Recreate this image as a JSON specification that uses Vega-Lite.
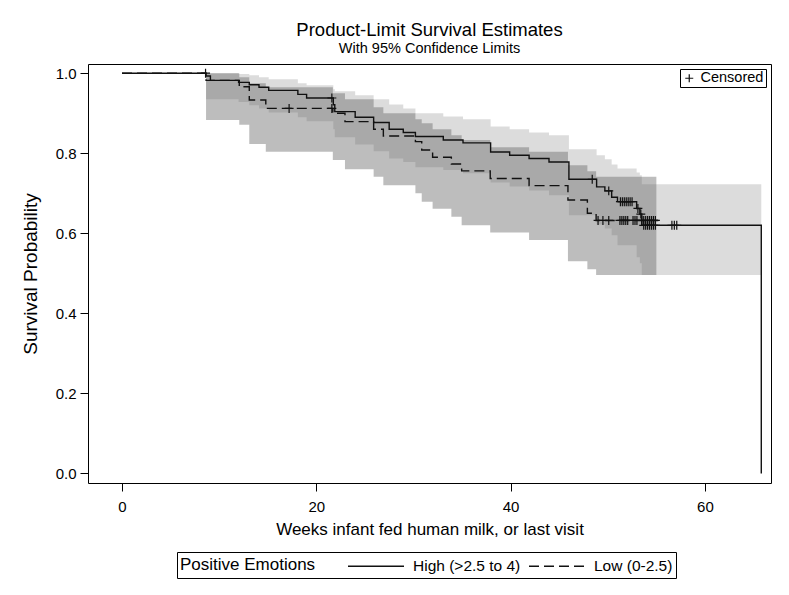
{
  "$schema": "https://vega.github.io/schema/vega-lite/v6.json",
  "autosize": {"type": "none"},
  "width": 683,
  "height": 419,
  "padding": {"left": 88, "top": 64, "right": 18, "bottom": 112},
  "background": "white",
  "title": {
    "text": "Product-Limit Survival Estimates",
    "subtitle": "With 95% Confidence Limits",
    "frame": "group",
    "anchor": "middle",
    "font": "Liberation Sans",
    "fontSize": 18.5,
    "fontWeight": "normal",
    "color": "#000",
    "subtitleFont": "Liberation Sans",
    "subtitleFontSize": 14.5,
    "subtitleColor": "#000",
    "subtitlePadding": 2,
    "offset": 9
  },
  "config": {
    "font": "Liberation Sans",
    "view": {"stroke": "#000", "strokeWidth": 1},
    "axis": {
      "grid": false,
      "domain": false,
      "tickColor": "#000",
      "tickSize": 8,
      "labelColor": "#000",
      "labelFont": "Liberation Sans",
      "labelFontSize": 15,
      "titleFont": "Liberation Sans",
      "titleFontSize": 17,
      "titleFontWeight": "normal",
      "titleColor": "#000"
    },
    "legend": {
      "labelFont": "Liberation Sans",
      "labelFontSize": 15.5,
      "labelColor": "#000",
      "titleFont": "Liberation Sans",
      "titleFontSize": 17,
      "titleFontWeight": "normal",
      "titleColor": "#000"
    }
  },
  "datasets": {
    "bandHigh": [
      {"t": 8.65, "lo": 0.935, "hi": 1.0},
      {"t": 12.0, "lo": 0.928, "hi": 0.998},
      {"t": 13.1, "lo": 0.92, "hi": 0.995},
      {"t": 14.1, "lo": 0.912, "hi": 0.99},
      {"t": 15.1, "lo": 0.902, "hi": 0.985},
      {"t": 18.1, "lo": 0.89, "hi": 0.975},
      {"t": 19.0, "lo": 0.88, "hi": 0.97},
      {"t": 21.75, "lo": 0.86, "hi": 0.96},
      {"t": 21.9, "lo": 0.84, "hi": 0.955},
      {"t": 24.0, "lo": 0.822, "hi": 0.945},
      {"t": 25.9, "lo": 0.805, "hi": 0.935},
      {"t": 27.5, "lo": 0.787, "hi": 0.922},
      {"t": 28.95, "lo": 0.778, "hi": 0.912},
      {"t": 30.2, "lo": 0.765, "hi": 0.9},
      {"t": 33.07, "lo": 0.758, "hi": 0.892},
      {"t": 35.1, "lo": 0.75, "hi": 0.885},
      {"t": 37.94, "lo": 0.727, "hi": 0.867},
      {"t": 39.9, "lo": 0.717, "hi": 0.86},
      {"t": 41.9, "lo": 0.707, "hi": 0.852},
      {"t": 43.95, "lo": 0.695, "hi": 0.845},
      {"t": 46.0, "lo": 0.645, "hi": 0.81},
      {"t": 48.85, "lo": 0.622, "hi": 0.795},
      {"t": 49.7, "lo": 0.612, "hi": 0.785},
      {"t": 50.4, "lo": 0.595, "hi": 0.772},
      {"t": 51.0, "lo": 0.57, "hi": 0.762},
      {"t": 52.97, "lo": 0.54, "hi": 0.752},
      {"t": 53.3, "lo": 0.525, "hi": 0.745},
      {"t": 53.5, "lo": 0.496, "hi": 0.7225},
      {"t": 65.8, "lo": 0.496, "hi": 0.7225}
    ],
    "bandLow": [
      {"t": 8.65, "lo": 0.883, "hi": 1.0},
      {"t": 12.07, "lo": 0.871, "hi": 0.99},
      {"t": 13.1, "lo": 0.823, "hi": 0.975},
      {"t": 14.8, "lo": 0.804, "hi": 0.965},
      {"t": 21.7, "lo": 0.783, "hi": 0.95},
      {"t": 22.95, "lo": 0.76, "hi": 0.935},
      {"t": 25.9, "lo": 0.7415, "hi": 0.915},
      {"t": 26.9, "lo": 0.72, "hi": 0.9},
      {"t": 30.2, "lo": 0.7, "hi": 0.885},
      {"t": 30.85, "lo": 0.679, "hi": 0.875},
      {"t": 31.97, "lo": 0.661, "hi": 0.86},
      {"t": 33.9, "lo": 0.641, "hi": 0.845},
      {"t": 34.96, "lo": 0.62, "hi": 0.833},
      {"t": 37.9, "lo": 0.602, "hi": 0.815},
      {"t": 41.9, "lo": 0.583, "hi": 0.804},
      {"t": 45.9, "lo": 0.53, "hi": 0.77},
      {"t": 47.9, "lo": 0.51, "hi": 0.755},
      {"t": 48.8, "lo": 0.496, "hi": 0.7415},
      {"t": 55.0, "lo": 0.496, "hi": 0.7415}
    ],
    "km": [
      {"g": "High (>2.5 to 4)", "t": 0, "s": 1.0},
      {"g": "High (>2.5 to 4)", "t": 8.65, "s": 0.993},
      {"g": "High (>2.5 to 4)", "t": 9.1, "s": 0.982},
      {"g": "High (>2.5 to 4)", "t": 12.0, "s": 0.977},
      {"g": "High (>2.5 to 4)", "t": 13.1, "s": 0.971},
      {"g": "High (>2.5 to 4)", "t": 14.1, "s": 0.965},
      {"g": "High (>2.5 to 4)", "t": 15.1, "s": 0.957},
      {"g": "High (>2.5 to 4)", "t": 18.1, "s": 0.947},
      {"g": "High (>2.5 to 4)", "t": 19.0, "s": 0.938},
      {"g": "High (>2.5 to 4)", "t": 21.75, "s": 0.921},
      {"g": "High (>2.5 to 4)", "t": 21.9, "s": 0.904},
      {"g": "High (>2.5 to 4)", "t": 24.0, "s": 0.89},
      {"g": "High (>2.5 to 4)", "t": 25.9, "s": 0.877},
      {"g": "High (>2.5 to 4)", "t": 27.5, "s": 0.86},
      {"g": "High (>2.5 to 4)", "t": 28.95, "s": 0.852},
      {"g": "High (>2.5 to 4)", "t": 30.2, "s": 0.842},
      {"g": "High (>2.5 to 4)", "t": 33.07, "s": 0.833},
      {"g": "High (>2.5 to 4)", "t": 35.1, "s": 0.826},
      {"g": "High (>2.5 to 4)", "t": 37.94, "s": 0.803},
      {"g": "High (>2.5 to 4)", "t": 39.9, "s": 0.795},
      {"g": "High (>2.5 to 4)", "t": 41.9, "s": 0.787},
      {"g": "High (>2.5 to 4)", "t": 43.95, "s": 0.778},
      {"g": "High (>2.5 to 4)", "t": 46.0, "s": 0.735},
      {"g": "High (>2.5 to 4)", "t": 48.85, "s": 0.716},
      {"g": "High (>2.5 to 4)", "t": 49.7, "s": 0.706},
      {"g": "High (>2.5 to 4)", "t": 50.4, "s": 0.69},
      {"g": "High (>2.5 to 4)", "t": 51.0, "s": 0.679},
      {"g": "High (>2.5 to 4)", "t": 52.97, "s": 0.662},
      {"g": "High (>2.5 to 4)", "t": 53.3, "s": 0.648},
      {"g": "High (>2.5 to 4)", "t": 53.5, "s": 0.62},
      {"g": "High (>2.5 to 4)", "t": 65.8, "s": 0.0},
      {"g": "Low (0-2.5)", "t": 0, "s": 1.0},
      {"g": "Low (0-2.5)", "t": 8.65, "s": 0.982},
      {"g": "Low (0-2.5)", "t": 12.07, "s": 0.966},
      {"g": "Low (0-2.5)", "t": 13.1, "s": 0.933},
      {"g": "Low (0-2.5)", "t": 14.8, "s": 0.912},
      {"g": "Low (0-2.5)", "t": 21.7, "s": 0.9},
      {"g": "Low (0-2.5)", "t": 22.95, "s": 0.879},
      {"g": "Low (0-2.5)", "t": 25.9, "s": 0.86},
      {"g": "Low (0-2.5)", "t": 26.9, "s": 0.843},
      {"g": "Low (0-2.5)", "t": 30.2, "s": 0.829},
      {"g": "Low (0-2.5)", "t": 30.85, "s": 0.808},
      {"g": "Low (0-2.5)", "t": 31.97, "s": 0.79},
      {"g": "Low (0-2.5)", "t": 33.9, "s": 0.773},
      {"g": "Low (0-2.5)", "t": 34.96, "s": 0.756},
      {"g": "Low (0-2.5)", "t": 37.9, "s": 0.737},
      {"g": "Low (0-2.5)", "t": 41.9, "s": 0.719},
      {"g": "Low (0-2.5)", "t": 45.9, "s": 0.683},
      {"g": "Low (0-2.5)", "t": 47.9, "s": 0.65},
      {"g": "Low (0-2.5)", "t": 48.8, "s": 0.632},
      {"g": "Low (0-2.5)", "t": 55.2, "s": 0.632}
    ],
    "cens": [
      {"c": "Censored", "t": 8.6, "s": 1.0},
      {"c": "Censored", "t": 21.6, "s": 0.938},
      {"c": "Censored", "t": 48.4, "s": 0.735},
      {"c": "Censored", "t": 50.1, "s": 0.706},
      {"c": "Censored", "t": 51.3, "s": 0.679},
      {"c": "Censored", "t": 51.5, "s": 0.679},
      {"c": "Censored", "t": 51.7, "s": 0.679},
      {"c": "Censored", "t": 51.9, "s": 0.679},
      {"c": "Censored", "t": 52.1, "s": 0.679},
      {"c": "Censored", "t": 52.3, "s": 0.679},
      {"c": "Censored", "t": 52.5, "s": 0.679},
      {"c": "Censored", "t": 53.1, "s": 0.662},
      {"c": "Censored", "t": 53.4, "s": 0.648},
      {"c": "Censored", "t": 53.7, "s": 0.62},
      {"c": "Censored", "t": 53.9, "s": 0.62},
      {"c": "Censored", "t": 54.1, "s": 0.62},
      {"c": "Censored", "t": 54.3, "s": 0.62},
      {"c": "Censored", "t": 54.5, "s": 0.62},
      {"c": "Censored", "t": 54.7, "s": 0.62},
      {"c": "Censored", "t": 54.9, "s": 0.62},
      {"c": "Censored", "t": 56.6, "s": 0.62},
      {"c": "Censored", "t": 56.85, "s": 0.62},
      {"c": "Censored", "t": 57.1, "s": 0.62},
      {"c": "Censored", "t": 17.2, "s": 0.912},
      {"c": "Censored", "t": 21.6, "s": 0.912},
      {"c": "Censored", "t": 49.0, "s": 0.632},
      {"c": "Censored", "t": 49.5, "s": 0.632},
      {"c": "Censored", "t": 50.1, "s": 0.632},
      {"c": "Censored", "t": 51.25, "s": 0.632},
      {"c": "Censored", "t": 51.45, "s": 0.632},
      {"c": "Censored", "t": 51.65, "s": 0.632},
      {"c": "Censored", "t": 51.85, "s": 0.632},
      {"c": "Censored", "t": 52.05, "s": 0.632},
      {"c": "Censored", "t": 52.6, "s": 0.632},
      {"c": "Censored", "t": 52.8, "s": 0.632},
      {"c": "Censored", "t": 53.0, "s": 0.632},
      {"c": "Censored", "t": 53.5, "s": 0.632},
      {"c": "Censored", "t": 53.7, "s": 0.632},
      {"c": "Censored", "t": 53.9, "s": 0.632},
      {"c": "Censored", "t": 54.1, "s": 0.632},
      {"c": "Censored", "t": 54.3, "s": 0.632},
      {"c": "Censored", "t": 54.5, "s": 0.632},
      {"c": "Censored", "t": 54.7, "s": 0.632},
      {"c": "Censored", "t": 54.9, "s": 0.632}
    ]
  },
  "layer": [
    {
      "data": {"name": "bandHigh"},
      "mark": {"type": "area", "interpolate": "step-after", "fill": "#666666", "opacity": 0.23},
      "encoding": {
        "x": {
          "field": "t", "type": "quantitative",
          "scale": {"domain": [-3.5, 66.8], "nice": false, "zero": false},
          "axis": {"values": [0, 20, 40, 60], "labelPadding": 8, "titlePadding": 7},
          "title": "Weeks infant fed human milk, or last visit"
        },
        "y": {
          "field": "lo", "type": "quantitative",
          "scale": {"domain": [-0.024, 1.023], "nice": false, "zero": false},
          "axis": {"values": [0, 0.2, 0.4, 0.6, 0.8, 1.0], "format": ".1f", "labelPadding": 4, "titlePadding": 15, "titleFontSize": 19},
          "title": "Survival Probability"
        },
        "y2": {"field": "hi"}
      }
    },
    {
      "data": {"name": "bandLow"},
      "mark": {"type": "area", "interpolate": "step-after", "fill": "#666666", "opacity": 0.43},
      "encoding": {
        "x": {"field": "t", "type": "quantitative"},
        "y": {"field": "lo", "type": "quantitative"},
        "y2": {"field": "hi"}
      }
    },
    {
      "data": {"name": "km"},
      "mark": {"type": "line", "interpolate": "step-after", "color": "#111111", "strokeWidth": 1.4},
      "encoding": {
        "x": {"field": "t", "type": "quantitative"},
        "y": {"field": "s", "type": "quantitative"},
        "strokeDash": {
          "field": "g", "type": "nominal",
          "scale": {"domain": ["High (>2.5 to 4)", "Low (0-2.5)"], "range": [[1, 0], [10, 5]]},
          "legend": {
            "title": "Positive Emotions",
            "orient": "none",
            "legendX": 89,
            "legendY": 488,
            "direction": "horizontal",
            "titleOrient": "left",
            "titleAnchor": "middle",
            "titleBaseline": "middle",
            "titlePadding": 31,
            "symbolType": "M-2.8,0L2.8,0",
            "symbolSize": 400,
            "symbolOffset": 18,
            "symbolStrokeColor": "#111111",
            "symbolStrokeWidth": 1.3,
            "labelOffset": 26,
            "columnPadding": 5,
            "strokeColor": "#000",
            "padding": 3
          }
        }
      }
    },
    {
      "data": {"name": "cens"},
      "mark": {"type": "point", "filled": false, "stroke": "#111111", "strokeWidth": 1.2, "size": 80, "opacity": 1},
      "encoding": {
        "x": {"field": "t", "type": "quantitative"},
        "y": {"field": "s", "type": "quantitative"},
        "shape": {
          "field": "c", "type": "nominal",
          "scale": {"range": ["M-1,0L1,0M0,-1L0,1"]},
          "legend": {
            "title": null,
            "orient": "top-right",
            "offset": 5,
            "strokeColor": "#000",
            "padding": 2,
            "symbolSize": 64,
            "symbolStrokeColor": "#111111",
            "symbolStrokeWidth": 1.2,
            "labelOffset": 4,
            "labelFontSize": 14.5
          }
        }
      }
    }
  ]
}
